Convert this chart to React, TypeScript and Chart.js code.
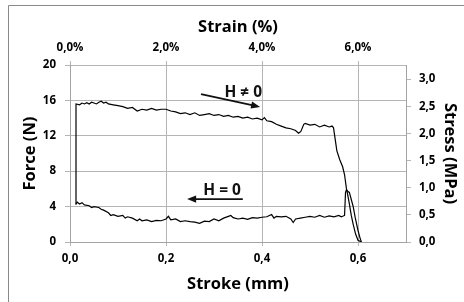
import React, { useEffect, useRef } from 'react';
import { Chart, registerables } from 'chart.js';

Chart.register(...registerables);

// ---- data (stroke in mm, force in N) ----
const upperStroke = [0.0125, 0.0125, 0.02, 0.025, 0.03, 0.035, 0.04, 0.045, 0.05, 0.055, 0.06, 0.065, 0.07, 0.075, 0.08, 0.09, 0.1, 0.11, 0.12, 0.13, 0.14, 0.15, 0.16, 0.17, 0.18, 0.19, 0.2, 0.21, 0.22, 0.23, 0.24, 0.25, 0.26, 0.27, 0.28, 0.29, 0.3, 0.31, 0.32, 0.33, 0.34, 0.35, 0.36, 0.37, 0.38, 0.39, 0.4, 0.405, 0.41, 0.42, 0.43, 0.44, 0.45, 0.46, 0.47, 0.476, 0.481, 0.487, 0.49, 0.5, 0.51, 0.52, 0.53, 0.54, 0.546, 0.549, 0.556, 0.562, 0.568, 0.572, 0.576, 0.578, 0.582, 0.586, 0.59, 0.595, 0.6, 0.607];
const upperForce = [4.2, 15.6, 15.5, 15.7, 15.6, 15.75, 15.6, 15.8, 15.7, 15.6, 15.8, 15.9, 15.7, 15.8, 15.6, 15.5, 15.4, 15.3, 15.1, 15.2, 14.8, 15.0, 14.9, 15.1, 14.9, 15.0, 15.0, 14.8, 14.7, 14.5, 14.6, 14.4, 14.6, 14.3, 14.4, 14.5, 14.3, 14.4, 14.2, 14.3, 14.1, 14.2, 14.0, 14.1, 13.9, 14.0, 13.8, 14.05, 13.7, 13.6, 13.3, 13.1, 12.9, 12.8, 12.6, 12.3, 12.5, 13.3, 13.4, 13.2, 13.3, 13.0, 13.2, 13.0, 13.1, 12.9, 10.3, 9.3, 8.5, 7.6, 6.0, 5.5, 4.3, 3.0, 2.0, 0.9, 0.2, 0.0];

const lowerStroke = [0.0125, 0.015, 0.02, 0.025, 0.03, 0.04, 0.045, 0.05, 0.06, 0.065, 0.07, 0.08, 0.085, 0.09, 0.1, 0.11, 0.115, 0.12, 0.13, 0.14, 0.145, 0.15, 0.16, 0.17, 0.18, 0.19, 0.2, 0.205, 0.21, 0.22, 0.23, 0.24, 0.25, 0.26, 0.27, 0.28, 0.29, 0.3, 0.31, 0.32, 0.33, 0.335, 0.34, 0.35, 0.36, 0.37, 0.38, 0.39, 0.4, 0.41, 0.42, 0.425, 0.43, 0.44, 0.45, 0.46, 0.465, 0.47, 0.48, 0.49, 0.5, 0.51, 0.52, 0.53, 0.54, 0.55, 0.56, 0.565, 0.572, 0.574, 0.576, 0.579, 0.582, 0.586, 0.59, 0.594, 0.6, 0.604, 0.607];
const lowerForce = [4.3, 4.5, 4.3, 4.45, 4.2, 4.1, 3.9, 4.0, 3.9, 3.7, 3.6, 3.3, 3.0, 3.1, 2.9, 3.0, 2.7, 2.85, 2.7, 2.4, 2.6, 2.4, 2.5, 2.3, 2.45, 2.4, 2.6, 2.9, 2.5, 2.6, 2.3, 2.4, 2.3, 2.25, 2.1, 2.35, 2.3, 2.6, 2.4, 2.7, 2.9, 3.0, 2.75, 2.6, 2.7, 2.55, 2.75, 2.7, 2.8, 2.85, 3.1, 2.7, 2.9, 2.85, 2.9, 2.6, 2.2, 2.6, 2.7, 2.8, 2.9, 2.8, 3.0, 2.8, 2.95, 2.85, 3.0, 2.85, 3.0, 5.6, 5.9, 5.7, 5.6, 4.8, 4.0, 2.8, 1.3, 0.5, 0.0];

// ---- axes ----
const strokeTicks = [0, 0.2, 0.4, 0.6];
const strokeMax = 0.7;
const forceTicks = [0, 4, 8, 12, 16, 20];
const strainTicks = [0, 2, 4, 6]; // %
const strainPerMm = 10; // % per mm
const stressTicks = [0, 0.5, 1.0, 1.5, 2.0, 2.5, 3.0]; // MPa
const stressPerNewton = 0.163; // MPa per N

// ---- annotations (in data units) ----
const noteNonZero = { text: 'H \u2260 0', at: [0.361, 16.9], from: [0.273, 16.72], to: [0.396, 15.25] };
const noteZero = { text: 'H = 0', at: [0.317, 5.82], from: [0.36, 4.85], to: [0.244, 4.85] };

const FONT = "'Open Sans', Lato, sans-serif";
const GRID = '#b5b5b5';
const AXIS = '#a3a3a3';

const fmt = (v: number, d: number) => v.toFixed(d).replace('.', ',');

function drawArrow(ctx: CanvasRenderingContext2D, x1: number, y1: number, x2: number, y2: number) {
  const ang = Math.atan2(y2 - y1, x2 - x1);
  const len = 9;
  const hw = 3.6;
  ctx.save();
  ctx.strokeStyle = '#111';
  ctx.fillStyle = '#111';
  ctx.lineWidth = 1.8;
  ctx.beginPath();
  ctx.moveTo(x1, y1);
  ctx.lineTo(x2 - Math.cos(ang) * len * 0.8, y2 - Math.sin(ang) * len * 0.8);
  ctx.stroke();
  ctx.beginPath();
  ctx.moveTo(x2, y2);
  ctx.lineTo(x2 - Math.cos(ang) * len - Math.sin(ang) * hw, y2 - Math.sin(ang) * len + Math.cos(ang) * hw);
  ctx.lineTo(x2 - Math.cos(ang) * len + Math.sin(ang) * hw, y2 - Math.sin(ang) * len - Math.cos(ang) * hw);
  ctx.closePath();
  ctx.fill();
  ctx.restore();
}

const framePlugin = {
  id: 'frame',
  beforeDraw(chart: any) {
    const ctx = chart.ctx;
    ctx.save();
    ctx.fillStyle = '#fff';
    ctx.fillRect(0, 0, chart.width, chart.height);
    ctx.strokeStyle = '#8a8a8a';
    ctx.lineWidth = 1;
    ctx.beginPath();
    ctx.moveTo(8.5, chart.height);
    ctx.lineTo(8.5, 5.5);
    ctx.lineTo(chart.width, 5.5);
    ctx.stroke();
    ctx.restore();
  },
};

const notesPlugin = {
  id: 'notes',
  afterDatasetsDraw(chart: any) {
    const ctx = chart.ctx;
    const xs = chart.scales.x;
    const ys = chart.scales.y;
    const px = (p: number[]) => [xs.getPixelForValue(p[0]), ys.getPixelForValue(p[1])];
    ctx.save();
    ctx.font = `bold 15.5px ${FONT}`;
    ctx.fillStyle = '#111';
    ctx.textAlign = 'center';
    ctx.textBaseline = 'middle';
    for (const n of [noteNonZero, noteZero]) {
      const [tx, ty] = px(n.at);
      ctx.fillText(n.text, tx, ty);
      const [x1, y1] = px(n.from);
      const [x2, y2] = px(n.to);
      drawArrow(ctx, x1, y1, x2, y2);
    }
    ctx.restore();
  },
};

export default function App() {
  const ref = useRef<HTMLCanvasElement | null>(null);

  useEffect(() => {
    if (!ref.current) return;
    const tickFont = { family: FONT, size: 11.5, weight: 'bold' as const };
    const titleFont = { family: FONT, size: 16.5, weight: 'bold' as const };
    const chart = new Chart(ref.current, {
      type: 'scatter',
      data: {
        datasets: [
          {
            data: upperStroke.map((x, i) => ({ x, y: upperForce[i] })),
            showLine: true,
            borderColor: '#000',
            borderWidth: 1.2,
            pointRadius: 0,
            tension: 0,
          },
          {
            data: lowerStroke.map((x, i) => ({ x, y: lowerForce[i] })),
            showLine: true,
            borderColor: '#000',
            borderWidth: 1.2,
            pointRadius: 0,
            tension: 0,
          },
        ],
      },
      options: {
        animation: false,
        responsive: false,
        devicePixelRatio: 1,
        layout: { padding: 0 },
        plugins: { legend: { display: false }, tooltip: { enabled: false } },
        scales: {
          x: {
            type: 'linear',
            position: 'bottom',
            min: 0,
            max: strokeMax,
            afterBuildTicks: (s: any) => { s.ticks = strokeTicks.map((v) => ({ value: v })); },
            afterFit: (s: any) => { s.height = 60; },
            ticks: { font: tickFont, color: '#000', padding: 6, callback: (v: any) => fmt(Number(v), 1) },
            grid: { color: GRID, lineWidth: 1, tickLength: 4, tickColor: GRID },
            border: { color: AXIS },
            title: { display: true, text: 'Stroke (mm)', font: titleFont, color: '#000', padding: { top: 0, bottom: 8 } },
          },
          x2: {
            type: 'linear',
            position: 'top',
            min: 0,
            max: strokeMax * strainPerMm,
            afterBuildTicks: (s: any) => { s.ticks = strainTicks.map((v) => ({ value: v })); },
            afterFit: (s: any) => { s.height = 65; },
            ticks: { font: tickFont, color: '#000', padding: 6, callback: (v: any) => fmt(Number(v), 1) + '%' },
            grid: { drawOnChartArea: false, tickLength: 4, tickColor: GRID, color: GRID },
            border: { color: GRID },
            title: { display: true, text: 'Strain (%)', font: titleFont, color: '#000', padding: { top: 17, bottom: 0 } },
          },
          y: {
            type: 'linear',
            position: 'left',
            min: 0,
            max: 20,
            afterBuildTicks: (s: any) => { s.ticks = forceTicks.map((v) => ({ value: v })); },
            afterFit: (s: any) => { s.width = 70; },
            ticks: { font: tickFont, color: '#000', padding: 9, callback: (v: any) => String(v) },
            grid: { color: GRID, lineWidth: 1, tickLength: 5, tickColor: GRID },
            border: { color: AXIS },
            title: { display: true, text: 'Force (N)', font: titleFont, color: '#000', padding: { top: 20, bottom: 0 } },
          },
          y2: {
            type: 'linear',
            position: 'right',
            min: 0,
            max: 20 * stressPerNewton,
            afterBuildTicks: (s: any) => { s.ticks = stressTicks.map((v) => ({ value: v })); },
            afterFit: (s: any) => { s.width = 58; },
            ticks: { font: tickFont, color: '#000', padding: 8, callback: (v: any) => fmt(Number(v), 1) },
            grid: { drawOnChartArea: false, tickLength: 5, tickColor: GRID, color: GRID },
            border: { color: AXIS },
            title: { display: true, text: 'Stress (MPa)', font: titleFont, color: '#000', padding: { top: 4, bottom: 0 } },
          },
        },
      } as any,
      plugins: [framePlugin, notesPlugin],
    });
    return () => chart.destroy();
  }, []);

  return (
    <div style={{ position: 'absolute', left: 0, top: 0, width: 464, height: 302 }}>
      <canvas ref={ref} width={464} height={302} style={{ width: 464, height: 302, display: 'block' }} />
    </div>
  );
}
